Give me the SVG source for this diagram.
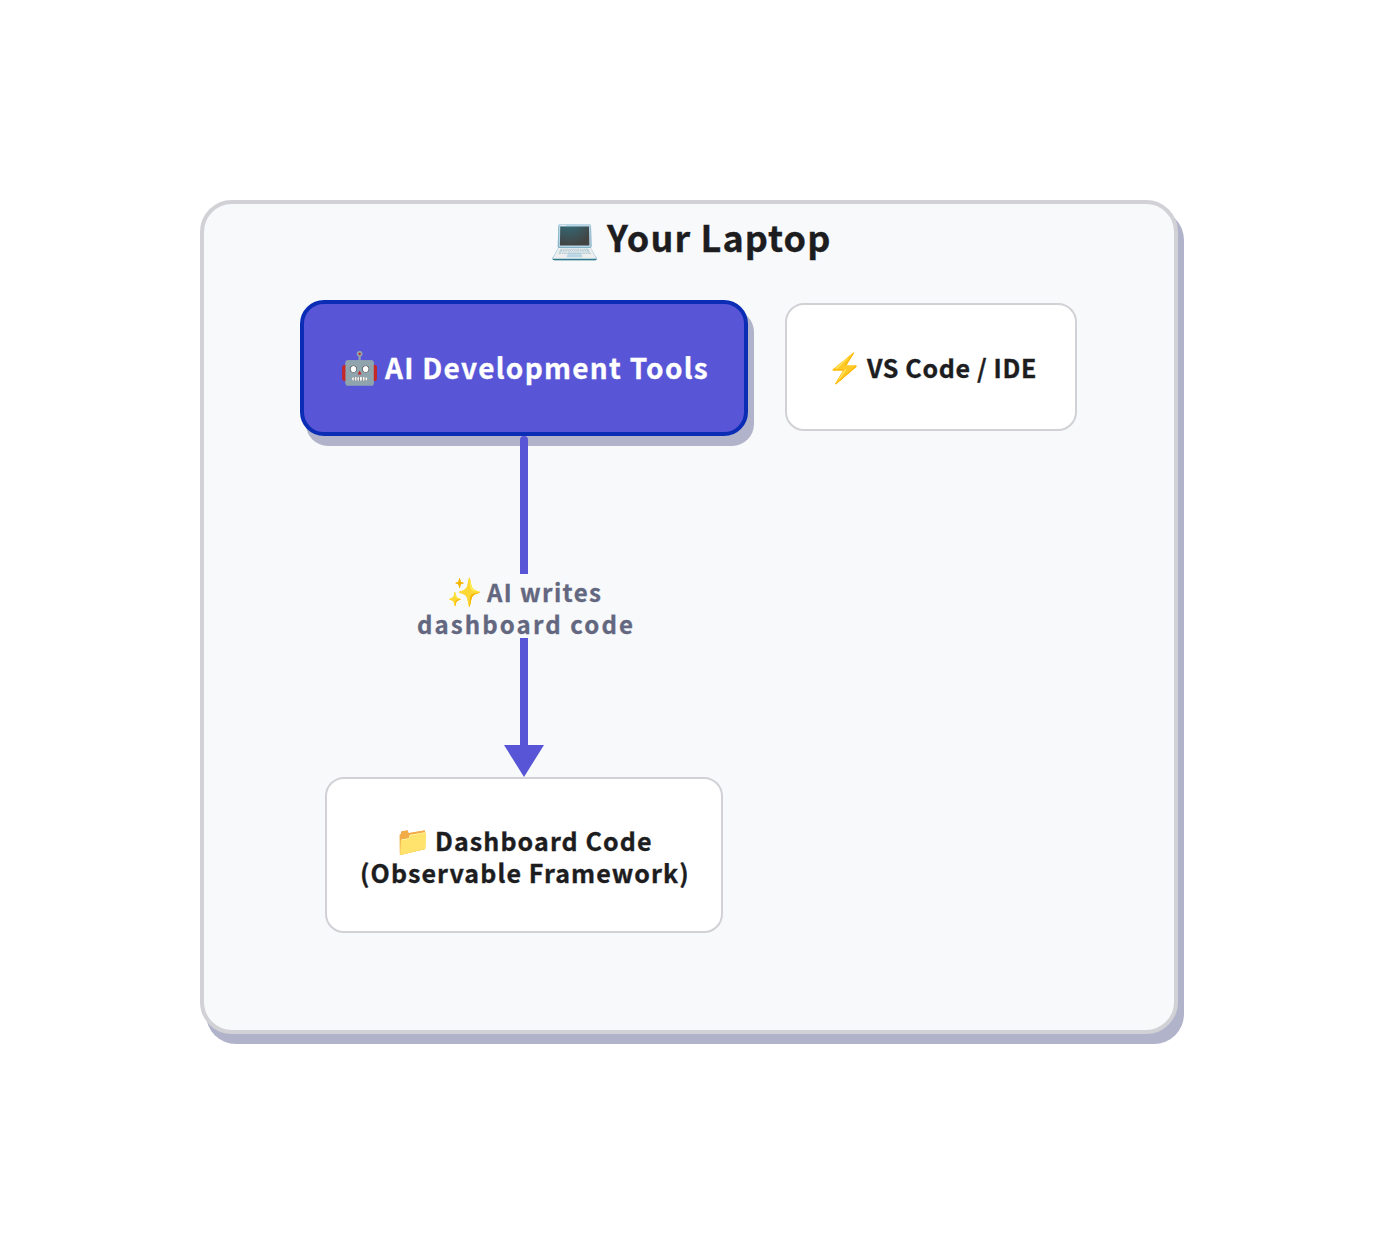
<svg xmlns="http://www.w3.org/2000/svg" width="1384" height="1244" viewBox="0 0 1384 1244">
<defs>
<style>
text{font-family:"Noto Sans CJK JP","Noto Sans CJK SC","Noto Sans",sans-serif;font-weight:700}
.d{fill:#1d1d1f;stroke:#1d1d1f;stroke-width:.35px}
.l{font-size:24px;letter-spacing:2.1px;fill:#636880;stroke:#636880;stroke-width:.3px}
.s{fill:#b1b3ca}
</style>
<marker id="a" markerUnits="userSpaceOnUse" markerWidth="32" markerHeight="40" refX="0" refY="20" orient="auto"><path d="M0 0L32 20L0 40Z" fill="#5856d6"/></marker>
</defs>
<rect width="1384" height="1244" fill="#fff"/>
<g id="laptop"><rect class="s" x="206" y="210" width="978" height="834" rx="30"/><rect x="202" y="202" width="974" height="830" rx="30" fill="#f8f9fb" stroke="#d1d1d6" stroke-width="4"/>
<text class="d" y="252" font-size="36" letter-spacing="1.08"><tspan x="550" font-size="39.5" letter-spacing="0">💻 </tspan><tspan x="607">Your Laptop</tspan></text></g>
<g id="ai"><rect class="s" x="306" y="310" width="448" height="136" rx="22"/><rect x="302" y="302" width="444" height="132" rx="22" fill="#5856d6" stroke="#0b2db5" stroke-width="4"/>
<text y="379" font-size="28" letter-spacing="1.27" fill="#fff" stroke="#fff" stroke-width=".3"><tspan x="340" font-size="31.5" letter-spacing="0">🤖 </tspan><tspan x="385">AI Development Tools</tspan></text></g>
<g id="ide"><rect x="786" y="304" width="290" height="126" rx="18" fill="#fff" stroke="#d1d1d6" stroke-width="2"/>
<text class="d" y="378" font-size="25" letter-spacing="0.64"><tspan x="827" font-size="28.5" letter-spacing="0">⚡ </tspan><tspan x="867">VS Code / IDE</tspan></text></g>
<g id="code"><rect x="326" y="778" width="396" height="154" rx="18" fill="#fff" stroke="#d1d1d6" stroke-width="2"/>
<text class="d" y="851" font-size="25" letter-spacing="1.1"><tspan x="395" font-size="28.5" letter-spacing="0">📁 </tspan><tspan x="435">Dashboard Code</tspan></text><text class="d" x="360" y="883" font-size="25" letter-spacing="1.1">(Observable Framework)</text></g>
<g id="connectors"><path d="M524 440V745" fill="none" stroke="#5856d6" stroke-width="8" stroke-linecap="round" marker-end="url(#a)"/></g>
<g id="edge-label"><rect x="410" y="574" width="228" height="64" fill="#f8f9fb"/>
<text class="l" y="602"><tspan x="447" font-size="28" letter-spacing="0">✨ </tspan><tspan x="487" letter-spacing="1.4">AI writes</tspan></text><text class="l" x="417" y="634">dashboard code</text></g>
</svg>
